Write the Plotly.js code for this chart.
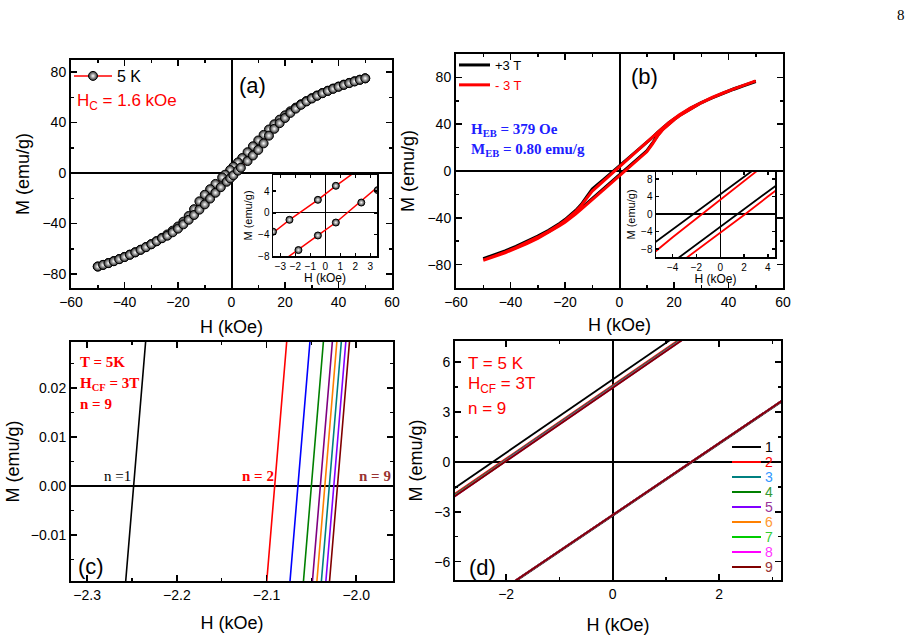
<!DOCTYPE html>
<html><head><meta charset="utf-8">
<script src="https://cdn.plot.ly/plotly-3.0.1.min.js"></script>
<style>html,body{margin:0;padding:0;background:#fff}#chart{width:912px;height:639px}</style>
</head><body><div id="chart"></div>
<script>
// ---------- Panel (a): 5 K loop ----------
const aH_desc = [50,48,46,44,42,40,38,36,34,32,30,28,26,24,22,20,18,16,14,12,10,8,6,4,2.4,0.7,-0.5,-2.4,-3.5,-6,-8,-10,-12,-14,-16,-18,-20,-22,-24,-26,-28,-30,-32,-34,-36,-38,-40,-42,-44,-46,-48,-50];
const aM_desc = [75.0,73.9,72.7,71.4,70.0,68.5,66.9,65.2,63.4,61.4,59.3,57.0,54.5,51.8,48.9,45.7,42.3,38.6,34.5,30.2,25.8,21.2,16.5,11.9,8.4,5.0,2.4,-1.3,-3.5,-8.6,-12.8,-17.2,-22.4,-28.6,-34.0,-38.5,-42.3,-45.6,-48.6,-51.3,-53.9,-56.3,-58.6,-60.7,-62.7,-64.6,-66.4,-68.1,-69.7,-71.2,-72.7,-74.0];
const aH_asc = [-50,-48,-46,-44,-42,-40,-38,-36,-34,-32,-30,-28,-26,-24,-22,-20,-18,-16,-14,-12,-10,-8,-6,-4,-1.8,-0.5,0.7,2.4,3.5,6,8,10,12,14,16,18,20,22,24,26,28,30,32,34,36,38,40,42,44,46,48,50];
const aM_asc = [-74.0,-72.7,-71.3,-69.8,-68.2,-66.5,-64.7,-62.8,-60.8,-58.7,-56.4,-54.0,-51.6,-49.6,-46.9,-44.0,-40.6,-37.0,-33.2,-29.0,-24.8,-20.2,-15.6,-11.2,-6.9,-4.2,-1.8,1.9,4.2,9.5,13.9,18.3,23.5,29.6,35.0,39.5,43.6,47.6,51.0,54.0,56.7,59.0,61.2,63.2,65.0,66.7,68.3,69.8,71.2,72.5,73.8,75.0];

// ---------- Panel (b): +3 T / -3 T cooled loops ----------
const bH_desc = [50,46,42,38,34,30,26,22,20,18,16,14,12,10,8,6,4,2,0,-2,-4,-6,-8,-10,-12,-14,-16,-18,-20,-22,-26,-30,-34,-38,-42,-46,-50];
const bH_asc  = [-50,-46,-42,-38,-34,-30,-26,-22,-20,-18,-16,-14,-12,-10,-8,-6,-4,-2,0,2,4,6,8,10,12,14,16,18,20,22,26,30,34,38,42,46,50];
const bPlus_desc  = [76.5,73.5,70.3,66.6,62.8,58.5,53.5,47.8,44.5,41.0,37.2,33.0,28.6,24.5,20.5,16.5,12.5,8.5,4.5,0.6,-3.5,-7.5,-11.5,-15.5,-22.0,-28.5,-33.5,-37.8,-41.5,-44.8,-50.6,-55.6,-60.2,-64.4,-68.2,-71.8,-75.0];
const bPlus_asc   = [-75.0,-72.2,-69.0,-65.4,-61.4,-56.9,-51.8,-46.0,-43.0,-39.5,-35.7,-31.6,-27.2,-23.0,-19.0,-15.0,-11.0,-7.0,-3.0,1.2,5.2,9.2,13.2,17.2,23.5,30.5,36.0,40.3,44.0,47.4,53.2,58.3,62.6,66.4,69.9,73.2,76.5];
const bMinus_desc = [77.0,73.8,70.5,66.8,63.0,58.7,53.7,48.0,44.6,41.0,37.0,32.8,28.5,24.2,20.0,15.8,11.8,7.6,3.4,-1.0,-5.3,-9.6,-13.6,-17.2,-23.2,-29.4,-34.5,-38.8,-42.5,-45.8,-51.6,-56.6,-61.2,-65.4,-69.3,-72.9,-76.3];
const bMinus_asc  = [-76.3,-73.2,-69.9,-66.2,-62.1,-57.6,-52.5,-46.8,-43.8,-40.4,-36.6,-32.5,-28.2,-24.2,-20.4,-16.4,-12.4,-8.4,-4.4,-0.2,4.0,8.0,12.2,16.4,22.8,30.0,35.6,40.0,43.8,47.2,53.1,58.3,62.7,66.6,70.2,73.6,77.0];

// ---------- Panels (c) and (d): training cycles n = 1..9 ----------
const cycleNames = ['1','2','3','4','5','6','7','8','9'];
const hUp  = [-3,-2,-1,0,1,2];
const upM1 = [-1.654,0.546,2.746,4.946,7.146,9.346];
const upM2 = [-2.000,0.200,2.400,4.600,6.800,9.000];
const upM3 = [-2.057,0.143,2.343,4.543,6.743,8.943];
const upM4 = [-2.090,0.110,2.310,4.510,6.710,8.910];
const upM5 = [-2.112,0.088,2.288,4.488,6.688,8.888];
const upM6 = [-2.123,0.077,2.277,4.477,6.677,8.877];
const upM7 = [-2.134,0.066,2.266,4.466,6.666,8.866];
const upM8 = [-2.145,0.055,2.255,4.455,6.655,8.855];
const upM9 = [-2.154,0.046,2.246,4.446,6.646,8.846];
const hLow  = [-2,-1,0,1,2,3.2];
const lowM1 = [-7.560,-5.400,-3.240,-1.080,1.080,3.672];
const lowM2 = [-7.517,-5.357,-3.197,-1.037,1.123,3.715];
const lowM3 = [-7.517,-5.357,-3.197,-1.037,1.123,3.715];
const lowM4 = [-7.517,-5.357,-3.197,-1.037,1.123,3.715];
const lowM5 = [-7.517,-5.357,-3.197,-1.037,1.123,3.715];
const lowM6 = [-7.517,-5.357,-3.197,-1.037,1.123,3.715];
const lowM7 = [-7.517,-5.357,-3.197,-1.037,1.123,3.715];
const lowM8 = [-7.517,-5.357,-3.197,-1.037,1.123,3.715];
const lowM9 = [-7.517,-5.357,-3.197,-1.037,1.123,3.715];
const upAll  = [upM1,upM2,upM3,upM4,upM5,upM6,upM7,upM8,upM9];
const lowAll = [lowM1,lowM2,lowM3,lowM4,lowM5,lowM6,lowM7,lowM8,lowM9];

// ---------- styles ----------
const cColors = ['#000000','#ff0000','#0000ff','#008000','#800080','#ff8000','#008080','#8000ff','#800000'];
const dColors = ['#000000','#ff0000','#008080','#008000','#8000ff','#ff8000','#00cc00','#ff00ff','#800000'];
const dLabelColors = ['#000000','#ff0000','#3399ff','#339933','#993399','#ff9933','#33cc33','#ff33ff','#993333'];
const ARIAL = 'Liberation Sans, Arial, sans-serif';
const TIMES = 'Liberation Serif, Times New Roman, serif';
const W = 912, HH = 639;
const X = v => v / W, Y = v => 1 - v / HH;

const sphere = (size) => ({symbol:'circle', size:size, color:'#2a2a2a', gradient:{type:'radial', color:'#ffffff'}, line:{color:'#000', width:1}});

const traces = [];
// (a) main
traces.push({x: aH_desc.concat(aH_asc), y: aM_desc.concat(aM_asc), xaxis:'x', yaxis:'y',
  mode:'lines+markers', name:'5 K', legend:'legend',
  line:{color:'#ff0000', width:1.5}, marker:sphere(9)});
// (a) inset
traces.push({x: aH_desc.concat(aH_asc), y: aM_desc.concat(aM_asc), xaxis:'x5', yaxis:'y5',
  mode:'lines+markers', showlegend:false,
  line:{color:'#ff0000', width:1.5}, marker:sphere(7)});
// (b) main
traces.push({x: bH_desc.concat(bH_asc), y: bPlus_desc.concat(bPlus_asc), xaxis:'x2', yaxis:'y2',
  mode:'lines', name:'+3 T', legend:'legend2', line:{color:'#000000', width:3}});
traces.push({x: bH_desc.concat(bH_asc), y: bMinus_desc.concat(bMinus_asc), xaxis:'x2', yaxis:'y2',
  mode:'lines', name:'<span style="color:#ff0000">- 3 T</span>', legend:'legend2', line:{color:'#ff0000', width:3}});
// (b) inset
traces.push({x: bH_desc.concat(bH_asc), y: bPlus_desc.concat(bPlus_asc), xaxis:'x6', yaxis:'y6',
  mode:'lines', showlegend:false, line:{color:'#000000', width:1.8}});
traces.push({x: bH_desc.concat(bH_asc), y: bMinus_desc.concat(bMinus_asc), xaxis:'x6', yaxis:'y6',
  mode:'lines', showlegend:false, line:{color:'#ff0000', width:1.8}});
// (c)
for (let i = 0; i < 9; i++) {
  traces.push({x: hUp, y: upAll[i], xaxis:'x3', yaxis:'y3', mode:'lines', showlegend:false,
    name:'n = ' + cycleNames[i], line:{color:cColors[i], width:1.6}});
}
// (d)
for (let i = 0; i < 9; i++) {
  traces.push({x: hUp.concat([null], hLow), y: upAll[i].concat([null], lowAll[i]), xaxis:'x4', yaxis:'y4',
    mode:'lines', connectgaps:false, showlegend:false, name:cycleNames[i], line:{color:dColors[i], width:1.8}});
}

function axis(o) {
  const base = {showline:true, linecolor:'black', linewidth:2, mirror:'ticks', ticks:'inside', ticklen:6,
    tickwidth:1.5, tickcolor:'black', showgrid:false, zeroline:true, zerolinecolor:'black', zerolinewidth:2,
    tickfont:{family:ARIAL, size:14, color:'black'}, automargin:false, fixedrange:true};
  return Object.assign(base, o);
}
function ttl(text, size, standoff) { return {text:text, font:{family:ARIAL, size:size, color:'black'}, standoff:standoff}; }

const layout = {
  width:W, height:HH, margin:{l:0,r:0,t:0,b:0}, paper_bgcolor:'#fff', plot_bgcolor:'white',
  showlegend:true,
  xaxis: axis({domain:[X(71),X(392)], anchor:'y', range:[-60,60], dtick:20, minor:{ticks:'inside', ticklen:3, dtick:10, tickcolor:'black'}, title:ttl('H (kOe)',18,12)}),
  yaxis: axis({domain:[Y(288),Y(60)], anchor:'x', range:[-91,89.5], dtick:40, minor:{ticks:'inside', ticklen:3, dtick:20, tickcolor:'black'}, title:ttl('M (emu/g)',18,8)}),
  xaxis2: axis({domain:[X(456),X(783)], anchor:'y2', range:[-60,60], dtick:20, minor:{ticks:'inside', ticklen:3, dtick:10, tickcolor:'black'}, title:ttl('H (kOe)',18,10)}),
  yaxis2: axis({domain:[Y(288),Y(54)], anchor:'x2', range:[-100,100], dtick:40, minor:{ticks:'inside', ticklen:3, dtick:20, tickcolor:'black'}, title:ttl('M (emu/g)',18,8)}),
  xaxis3: axis({domain:[X(71),X(393)], anchor:'y3', range:[-2.318,-1.959], dtick:0.1, tickformat:'.1f', minor:{ticks:'inside', ticklen:3, dtick:0.05, tickcolor:'black'}, title:ttl('H (kOe)',18,15)}),
  yaxis3: axis({domain:[Y(581),Y(342)], anchor:'x3', range:[-0.0194,0.0294], dtick:0.01, tickformat:'.2f', minor:{ticks:'inside', ticklen:3, dtick:0.005, tickcolor:'black'}, title:ttl('M (emu/g)',18,6)}),
  xaxis4: axis({domain:[X(455),X(781)], anchor:'y4', range:[-2.96,3.16], dtick:2, minor:{ticks:'inside', ticklen:3, dtick:1, tickcolor:'black'}, title:ttl('H (kOe)',18,18)}),
  yaxis4: axis({domain:[Y(580),Y(341)], anchor:'x4', range:[-7.1,7.26], dtick:3, minor:{ticks:'inside', ticklen:3, dtick:1.5, tickcolor:'black'}, title:ttl('M (emu/g)',18,7)}),
  xaxis5: axis({domain:[X(273),X(377)], anchor:'y5', range:[-3.5,3.45], dtick:1, linewidth:1.5, ticklen:3, zerolinewidth:1.2, tickfont:{family:ARIAL,size:10,color:'black'}, title:ttl('H (kOe)',12,2)}),
  yaxis5: axis({domain:[Y(256),Y(175)], anchor:'x5', range:[-8,7], dtick:4, linewidth:1.5, ticklen:3, zerolinewidth:1.2, tickfont:{family:ARIAL,size:10,color:'black'}, title:ttl('M (emu/g)',11,3)}),
  xaxis6: axis({domain:[X(656),X(775)], anchor:'y6', range:[-5.4,4.6], dtick:2, linewidth:1.5, ticklen:3, zerolinewidth:1.2, tickfont:{family:ARIAL,size:10,color:'black'}, title:ttl('H (kOe)',12,2)}),
  yaxis6: axis({domain:[Y(257),Y(172)], anchor:'x6', range:[-9.8,9.6], dtick:4, linewidth:1.5, ticklen:3, zerolinewidth:1.2, tickfont:{family:ARIAL,size:10,color:'black'}, title:ttl('M (emu/g)',11,3)}),
  legend: {x:X(69), y:Y(59), xanchor:'left', yanchor:'top', bgcolor:'rgba(0,0,0,0)', borderwidth:0, itemwidth:38,
    font:{family:ARIAL, size:16, color:'black'}},
  legend2: {x:X(454), y:Y(50), xanchor:'left', yanchor:'top', bgcolor:'rgba(0,0,0,0)', borderwidth:0, itemwidth:31,
    font:{family:ARIAL, size:13, color:'black'}},
  shapes: [],
  annotations: []
};

const ann = (text, x, y, font, xanchor) => ({text:text, x:X(x), y:Y(y), xref:'paper', yref:'paper', showarrow:false,
  xanchor:xanchor || 'left', yanchor:'middle', font:font});
layout.annotations.push(ann('(a)', 252, 85, {family:ARIAL, size:22, color:'black'}, 'center'));
layout.annotations.push(ann('(b)', 644, 77, {family:ARIAL, size:22, color:'black'}, 'center'));
layout.annotations.push(ann('(c)', 91, 566, {family:ARIAL, size:22, color:'black'}, 'center'));
layout.annotations.push(ann('(d)', 482, 567, {family:ARIAL, size:22, color:'black'}, 'center'));
layout.annotations.push(ann('H<sub>C</sub> = 1.6 kOe', 75, 102, {family:ARIAL, size:17, color:'#ff0000'}));
layout.annotations.push(ann('<b>H<sub>EB</sub> = 379 Oe</b>', 469, 130, {family:TIMES, size:15, color:'#2020ff'}));
layout.annotations.push(ann('<b>M<sub>EB</sub> = 0.80 emu/g</b>', 469, 150, {family:TIMES, size:15, color:'#2020ff'}));
layout.annotations.push(ann('<b>T = 5K</b>', 78, 362, {family:TIMES, size:15, color:'#ff0000'}));
layout.annotations.push(ann('<b>H<sub>CF</sub> = 3T</b>', 78, 384, {family:TIMES, size:15, color:'#ff0000'}));
layout.annotations.push(ann('<b>n = 9</b>', 78, 404, {family:TIMES, size:15, color:'#ff0000'}));
layout.annotations.push(ann('n =1', 102, 476, {family:TIMES, size:15, color:'#000000'}));
layout.annotations.push(ann('<b>n = 2</b>', 240, 476, {family:TIMES, size:15, color:'#ff0000'}));
layout.annotations.push(ann('<b>n = 9</b>', 357, 476, {family:TIMES, size:15, color:'#993333'}));
layout.annotations.push(ann('T = 5 K', 466, 363, {family:ARIAL, size:17, color:'#ff0000'}));
layout.annotations.push(ann('H<sub>CF</sub> = 3T', 466, 385, {family:ARIAL, size:17, color:'#ff0000'}));
layout.annotations.push(ann('n = 9', 466, 408, {family:ARIAL, size:17, color:'#ff0000'}));
layout.annotations.push(ann('8', 901, 15, {family:TIMES, size:15, color:'#000000'}, 'center'));

// manual legend for (d)
for (let i = 0; i < 9; i++) {
  const yy = 447 + i * 15;
  layout.shapes.push({type:'line', xref:'paper', yref:'paper', x0:X(732), x1:X(761), y0:Y(yy), y1:Y(yy),
    line:{color:dColors[i], width:2}});
  layout.annotations.push(ann(cycleNames[i], 763, yy, {family:ARIAL, size:14, color:dLabelColors[i]}));
}

Plotly.newPlot('chart', traces, layout, {displayModeBar:false, staticPlot:true});
</script>
</body></html>
